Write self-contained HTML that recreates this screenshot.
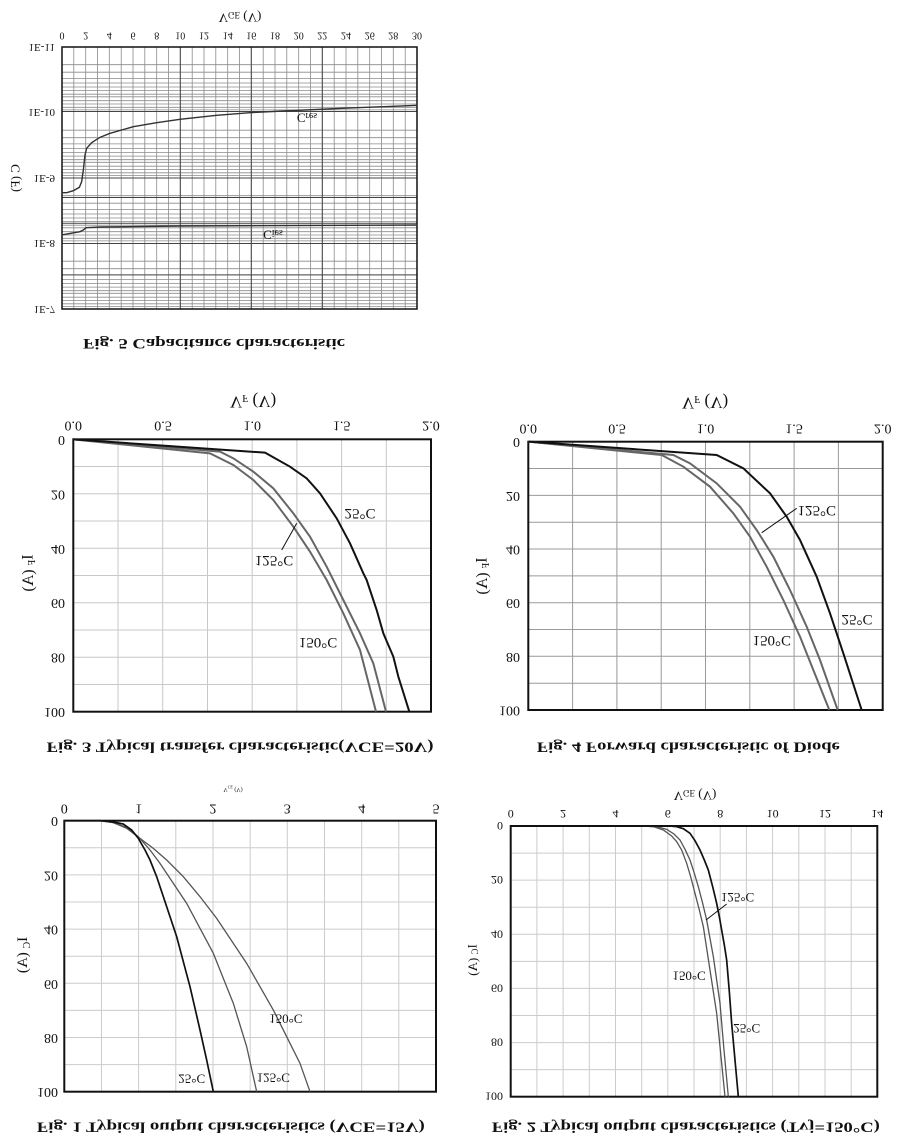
<!DOCTYPE html>
<html><head><meta charset="utf-8"><style>
html,body{margin:0;padding:0;background:#fff;}
svg{display:block;}
text{font-family:"Liberation Serif",serif;fill:#111;}
</style></head><body>
<svg width="904" height="1144" viewBox="0 0 904 1144" xmlns="http://www.w3.org/2000/svg">
<rect width="904" height="1144" fill="#fff"/>

<!-- ================= FIG 5 ================= -->
<g fill="none" stroke="#8a8a8a" stroke-width="0.8">
<path d="M73.8 47V309M85.7 47V309M97.5 47V309M109.3 47V309M121.2 47V309M133 47V309M144.8 47V309M156.7 47V309M168.5 47V309M180.3 47V309M192.2 47V309M204 47V309M215.8 47V309M227.7 47V309M239.5 47V309M251.3 47V309M263.2 47V309M275 47V309M286.8 47V309M298.7 47V309M310.5 47V309M322.3 47V309M334.2 47V309M346 47V309M357.8 47V309M369.7 47V309M381.5 47V309M393.3 47V309M405.2 47V309"/>
<path d="M62 64.7H417M62 72.2H417M62 78.4H417M62 83H417M62 87H417M62 90.6H417M62 94.2H417M62 96.8H417M62 100.7H417M62 104H417M62 107.3H417M62 109.9H417
M62 130.2H417M62 137.7H417M62 143.9H417M62 148.5H417M62 152.5H417M62 156.1H417M62 159.7H417M62 162.3H417M62 166.2H417M62 169.5H417M62 172.8H417M62 175.4H417
M62 195.7H417M62 203.2H417M62 209.4H417M62 214H417M62 218H417M62 221.6H417M62 225.2H417M62 227.8H417M62 231.7H417M62 235H417M62 238.3H417M62 240.9H417
M62 261.2H417M62 268.7H417M62 274.9H417M62 279.5H417M62 283.5H417M62 287.1H417M62 290.7H417M62 293.3H417M62 297.2H417M62 300.5H417M62 303.8H417M62 306.4H417"/>
</g>
<path d="M62 111.5H417M62 178H417M62 243.5H417M62 197.5H417M62 223.3H417M62 274.9H417M180.3 47V309M251.3 47V309M322.3 47V309" stroke="#444" stroke-width="1" fill="none"/>
<rect x="62" y="47" width="355" height="262" fill="none" stroke="#111" stroke-width="1.5"/>
<g transform="scale(0.33333)" fill="none" stroke="#333" stroke-width="1.4">
<polyline vector-effect="non-scaling-stroke" points="185,578 200,578 220,572 238,562 245,545 250,510 255,465 260,445 275,428 300,412 330,400 400,380 470,368 540,358 650,346 750,338 850,333 1000,326 1100,322 1252,316"/>
<polyline vector-effect="non-scaling-stroke" points="185,705 240,695 250,690 258,683 300,681 540,678 1252,675"/>
</g>
<g font-size="10" text-anchor="middle" dominant-baseline="central">
<text transform="translate(62,35) scale(1,-1)">0</text>
<text transform="translate(85.7,35) scale(1,-1)">2</text>
<text transform="translate(109.3,35) scale(1,-1)">4</text>
<text transform="translate(133,35) scale(1,-1)">6</text>
<text transform="translate(156.7,35) scale(1,-1)">8</text>
<text transform="translate(180.3,35) scale(1,-1)">10</text>
<text transform="translate(204,35) scale(1,-1)">12</text>
<text transform="translate(227.7,35) scale(1,-1)">14</text>
<text transform="translate(251.3,35) scale(1,-1)">16</text>
<text transform="translate(275,35) scale(1,-1)">18</text>
<text transform="translate(298.7,35) scale(1,-1)">20</text>
<text transform="translate(322.3,35) scale(1,-1)">22</text>
<text transform="translate(346,35) scale(1,-1)">24</text>
<text transform="translate(369.7,35) scale(1,-1)">26</text>
<text transform="translate(393.3,35) scale(1,-1)">28</text>
<text transform="translate(417,35) scale(1,-1)">30</text>
</g>
<g font-size="11" text-anchor="end" dominant-baseline="central">
<text transform="translate(55,47) scale(1,-1)">1E-11</text>
<text transform="translate(55,112) scale(1,-1)">1E-10</text>
<text transform="translate(55,178) scale(1,-1)">1E-9</text>
<text transform="translate(55,243) scale(1,-1)">1E-8</text>
<text transform="translate(55,309) scale(1,-1)">1E-7</text>
</g>
<text font-size="13" text-anchor="middle" dominant-baseline="central" transform="translate(240,18) scale(1,-1)">V<tspan dy="3" font-size="9">GE</tspan><tspan dy="-3"> (V)</tspan></text>
<text font-size="13" text-anchor="middle" dominant-baseline="central" transform="translate(15,178) scale(1,-1) rotate(-90)">C (F)</text>
<text font-size="13" text-anchor="middle" dominant-baseline="central" transform="translate(307,118) scale(1,-1)">C<tspan dy="2" font-size="10">res</tspan></text>
<text font-size="13" text-anchor="middle" dominant-baseline="central" transform="translate(273,235) scale(1,-1)">C<tspan dy="2" font-size="10">ies</tspan></text>
<text font-size="15" font-weight="bold" text-anchor="middle" dominant-baseline="central" textLength="262" lengthAdjust="spacingAndGlyphs" transform="translate(214,343) scale(1,-1)">Fig. 5 Capacitance characteristic</text>

<!-- ================= FIG 3 ================= -->
<path d="M118 439.3V711.7M162.7 439.3V711.7M207.5 439.3V711.7M252.2 439.3V711.7M296.9 439.3V711.7M341.6 439.3V711.7M386.3 439.3V711.7M73.3 466.5H431M73.3 493.8H431M73.3 521H431M73.3 548.3H431M73.3 575.5H431M73.3 602.7H431M73.3 630H431M73.3 657.2H431M73.3 684.5H431" stroke="#c8c8c8" stroke-width="1" fill="none"/>
<rect x="73.3" y="439.3" width="357.7" height="272.4" fill="none" stroke="#111" stroke-width="2"/>
<g transform="translate(0,380) scale(0.33333)" fill="none">
<polyline vector-effect="non-scaling-stroke" stroke="#666" stroke-width="2" points="220,178 630,220 700,255 760,300 820,360 880,440 930,515 980,600 1030,700 1080,810 1128,995"/>
<polyline vector-effect="non-scaling-stroke" stroke="#666" stroke-width="2" points="220,178 660,215 700,235 760,275 820,325 880,400 930,470 980,560 1030,660 1080,760 1120,850 1158,995"/>
<polyline vector-effect="non-scaling-stroke" stroke="#111" stroke-width="2" points="220,178 795,218 870,260 920,295 960,340 1010,415 1050,490 1090,580 1100,600 1130,690 1150,760 1180,830 1195,890 1228,995"/>
</g>
<line x1="281.7" y1="550" x2="296.7" y2="523.3" stroke="#111" stroke-width="1"/>
<g font-size="14" text-anchor="middle" dominant-baseline="central">
<text transform="translate(73.3,425) scale(1,-1)">0.0</text>
<text transform="translate(163,425) scale(1,-1)">0.5</text>
<text transform="translate(252.2,425) scale(1,-1)">1.0</text>
<text transform="translate(341.6,425) scale(1,-1)">1.5</text>
<text transform="translate(431,425) scale(1,-1)">2.0</text>
</g>
<g font-size="14" text-anchor="end" dominant-baseline="central">
<text transform="translate(65,439.3) scale(1,-1)">0</text>
<text transform="translate(65,493.8) scale(1,-1)">20</text>
<text transform="translate(65,548.3) scale(1,-1)">40</text>
<text transform="translate(65,602.7) scale(1,-1)">60</text>
<text transform="translate(65,657.2) scale(1,-1)">80</text>
<text transform="translate(65,711.7) scale(1,-1)">100</text>
</g>
<text font-size="17" text-anchor="middle" dominant-baseline="central" transform="translate(253,402) scale(1,-1)">V<tspan dy="4" font-size="11">F</tspan><tspan dy="-4"> (V)</tspan></text>
<text font-size="16" text-anchor="middle" dominant-baseline="central" transform="translate(28,573) scale(1,-1) rotate(-90)">I<tspan dy="4" font-size="10">F</tspan><tspan dy="-4"> (A)</tspan></text>
<g font-size="15" text-anchor="middle" dominant-baseline="central">
<text transform="translate(360,513) scale(1,-1)">25°C</text>
<text transform="translate(274,560) scale(1,-1)">125°C</text>
<text transform="translate(318,642) scale(1,-1)">150°C</text>
</g>
<text font-size="15" font-weight="bold" text-anchor="middle" dominant-baseline="central" textLength="387" lengthAdjust="spacingAndGlyphs" transform="translate(240,746.7) scale(1,-1)">Fig. 3 Typical transfer characteristic(VCE=20V)</text>

<!-- ================= FIG 4 ================= -->
<path d="M572.6 441.7V710M616.9 441.7V710M661.2 441.7V710M705.5 441.7V710M749.8 441.7V710M794.1 441.7V710M838.4 441.7V710M528.3 468.5H882.7M528.3 495.4H882.7M528.3 522.2H882.7M528.3 549H882.7M528.3 575.9H882.7M528.3 602.7H882.7M528.3 629.5H882.7M528.3 656.3H882.7M528.3 683.2H882.7" stroke="#9a9a9a" stroke-width="1" fill="none"/>
<rect x="528.3" y="441.7" width="354.4" height="268.3" fill="none" stroke="#111" stroke-width="2"/>
<g transform="translate(450,380) scale(0.33333)" fill="none">
<polyline vector-effect="non-scaling-stroke" stroke="#666" stroke-width="2" points="235,185 635,225 700,260 780,320 850,400 900,470 950,560 1000,660 1050,770 1090,870 1138,990"/>
<polyline vector-effect="non-scaling-stroke" stroke="#666" stroke-width="2" points="235,185 670,225 720,250 800,310 870,380 920,450 970,530 1020,630 1070,740 1110,840 1163,990"/>
<polyline vector-effect="non-scaling-stroke" stroke="#111" stroke-width="2" points="235,185 800,225 880,265 960,340 1010,410 1050,480 1100,590 1140,700 1180,820 1235,990"/>
</g>
<line x1="761.7" y1="532.7" x2="796.7" y2="508.3" stroke="#111" stroke-width="1"/>
<g font-size="14" text-anchor="middle" dominant-baseline="central">
<text transform="translate(528.3,428) scale(1,-1)">0.0</text>
<text transform="translate(617,428) scale(1,-1)">0.5</text>
<text transform="translate(705.5,428) scale(1,-1)">1.0</text>
<text transform="translate(794,428) scale(1,-1)">1.5</text>
<text transform="translate(882.7,428) scale(1,-1)">2.0</text>
</g>
<g font-size="14" text-anchor="end" dominant-baseline="central">
<text transform="translate(520,441.7) scale(1,-1)">0</text>
<text transform="translate(520,495.4) scale(1,-1)">20</text>
<text transform="translate(520,549) scale(1,-1)">40</text>
<text transform="translate(520,602.7) scale(1,-1)">60</text>
<text transform="translate(520,656.3) scale(1,-1)">80</text>
<text transform="translate(520,710) scale(1,-1)">100</text>
</g>
<text font-size="17" text-anchor="middle" dominant-baseline="central" transform="translate(705,403) scale(1,-1)">V<tspan dy="4" font-size="11">F</tspan><tspan dy="-4"> (V)</tspan></text>
<text font-size="16" text-anchor="middle" dominant-baseline="central" transform="translate(482,576) scale(1,-1) rotate(-90)">I<tspan dy="4" font-size="10">F</tspan><tspan dy="-4"> (A)</tspan></text>
<g font-size="15" text-anchor="middle" dominant-baseline="central">
<text transform="translate(816.7,510) scale(1,-1)">125°C</text>
<text transform="translate(857,619) scale(1,-1)">25°C</text>
<text transform="translate(771.7,640) scale(1,-1)">150°C</text>
</g>
<text font-size="15" font-weight="bold" text-anchor="middle" dominant-baseline="central" textLength="303" lengthAdjust="spacingAndGlyphs" transform="translate(688.3,746.7) scale(1,-1)">Fig. 4 Forward characteristic of Diode</text>

<!-- ================= FIG 1 ================= -->
<path d="M101.5 820.7V1091.7M138.6 820.7V1091.7M175.8 820.7V1091.7M213 820.7V1091.7M250.2 820.7V1091.7M287.3 820.7V1091.7M324.5 820.7V1091.7M361.7 820.7V1091.7M398.8 820.7V1091.7M64.3 847.8H436M64.3 874.9H436M64.3 902H436M64.3 929.1H436M64.3 956.2H436M64.3 983.3H436M64.3 1010.4H436M64.3 1037.5H436M64.3 1064.6H436" stroke="#cccccc" stroke-width="1" fill="none"/>
<rect x="64.3" y="820.7" width="371.7" height="271" fill="none" stroke="#111" stroke-width="2"/>
<g transform="translate(0,770) scale(0.33333)" fill="none">
<polyline vector-effect="non-scaling-stroke" stroke="#555" stroke-width="1.3" points="193,152 300,152 340,158 380,175 420,205 460,235 500,270 550,320 600,380 650,445 700,520 740,580 780,650 820,720 860,800 900,880 930,965"/>
<polyline vector-effect="non-scaling-stroke" stroke="#555" stroke-width="1.3" points="193,152 300,152 340,158 380,172 415,200 450,240 480,280 520,340 560,400 600,475 640,550 670,625 700,700 720,765 740,830 770,965"/>
<polyline vector-effect="non-scaling-stroke" stroke="#111" stroke-width="1.7" points="193,152 300,152 340,156 370,162 395,180 415,205 435,240 450,270 470,320 490,380 510,440 530,500 550,575 570,650 585,715 600,780 620,870 640,965"/>
</g>
<g font-size="14" text-anchor="middle" dominant-baseline="central">
<text transform="translate(64.3,808) scale(1,-1)">0</text>
<text transform="translate(138.6,808) scale(1,-1)">1</text>
<text transform="translate(213,808) scale(1,-1)">2</text>
<text transform="translate(287.3,808) scale(1,-1)">3</text>
<text transform="translate(361.7,808) scale(1,-1)">4</text>
<text transform="translate(436,808) scale(1,-1)">5</text>
</g>
<g font-size="14" text-anchor="end" dominant-baseline="central">
<text transform="translate(58,820.7) scale(1,-1)">0</text>
<text transform="translate(58,874.9) scale(1,-1)">20</text>
<text transform="translate(58,929.1) scale(1,-1)">40</text>
<text transform="translate(58,983.3) scale(1,-1)">60</text>
<text transform="translate(58,1037.5) scale(1,-1)">80</text>
<text transform="translate(58,1091.7) scale(1,-1)">100</text>
</g>
<text font-size="6" fill="#777" text-anchor="middle" dominant-baseline="central" transform="translate(233,789) scale(1,-1)">V<tspan dy="1.5" font-size="4">CE</tspan><tspan dy="-1.5"> (V)</tspan></text>
<text font-size="15" text-anchor="middle" dominant-baseline="central" transform="translate(23,955) scale(1,-1) rotate(-90)">I<tspan dy="4" font-size="10">C</tspan><tspan dy="-4"> (A)</tspan></text>
<g font-size="13" text-anchor="middle" dominant-baseline="central">
<text transform="translate(285.8,1019) scale(1,-1)">150°C</text>
<text transform="translate(191.7,1079) scale(1,-1)">25°C</text>
<text transform="translate(273.3,1078) scale(1,-1)">125°C</text>
</g>
<text font-size="15" font-weight="bold" text-anchor="middle" dominant-baseline="central" textLength="388" lengthAdjust="spacingAndGlyphs" transform="translate(230.8,1126.7) scale(1,-1)">Fig. 1 Typical output characteristics (VCE=15V)</text>

<!-- ================= FIG 2 ================= -->
<path d="M536.9 826V1096.7M563.1 826V1096.7M589.3 826V1096.7M615.5 826V1096.7M641.7 826V1096.7M667.8 826V1096.7M694 826V1096.7M720.2 826V1096.7M746.4 826V1096.7M772.6 826V1096.7M798.8 826V1096.7M825 826V1096.7M851.2 826V1096.7M510.7 853.1H877.3M510.7 880.1H877.3M510.7 907.2H877.3M510.7 934.3H877.3M510.7 961.4H877.3M510.7 988.4H877.3M510.7 1015.5H877.3M510.7 1042.6H877.3M510.7 1069.6H877.3" stroke="#cccccc" stroke-width="1" fill="none"/>
<rect x="510.7" y="826" width="366.6" height="270.7" fill="none" stroke="#111" stroke-width="2"/>
<g transform="translate(450,770) scale(0.33333)" fill="none">
<polyline vector-effect="non-scaling-stroke" stroke="#555" stroke-width="1.3" points="575,168 610,170 640,180 665,198 680,215 695,240 710,280 722,320 735,370 748,420 760,470 770,535 780,600 790,665 800,730 812,850 825,980"/>
<polyline vector-effect="non-scaling-stroke" stroke="#555" stroke-width="1.3" points="575,168 620,170 650,178 672,192 690,210 705,238 720,270 733,310 745,350 758,400 770,450 780,505 790,560 800,630 810,700 822,840 835,980"/>
<polyline vector-effect="non-scaling-stroke" stroke="#111" stroke-width="1.7" points="575,168 660,168 680,170 700,176 720,190 735,212 750,240 763,270 775,300 788,350 800,400 808,440 815,480 823,525 830,570 838,665 845,760 855,870 865,980"/>
</g>
<line x1="706" y1="920" x2="726.7" y2="904" stroke="#111" stroke-width="1"/>
<g font-size="12" text-anchor="middle" dominant-baseline="central">
<text transform="translate(510.7,814) scale(1,-1)">0</text>
<text transform="translate(563.1,814) scale(1,-1)">2</text>
<text transform="translate(615.5,814) scale(1,-1)">4</text>
<text transform="translate(667.8,814) scale(1,-1)">6</text>
<text transform="translate(720.2,814) scale(1,-1)">8</text>
<text transform="translate(772.6,814) scale(1,-1)">10</text>
<text transform="translate(825,814) scale(1,-1)">12</text>
<text transform="translate(877.3,814) scale(1,-1)">14</text>
</g>
<g font-size="12" text-anchor="end" dominant-baseline="central">
<text transform="translate(503,826) scale(1,-1)">0</text>
<text transform="translate(503,880.1) scale(1,-1)">20</text>
<text transform="translate(503,934.3) scale(1,-1)">40</text>
<text transform="translate(503,988.4) scale(1,-1)">60</text>
<text transform="translate(503,1042.6) scale(1,-1)">80</text>
<text transform="translate(503,1096.7) scale(1,-1)">100</text>
</g>
<text font-size="13" text-anchor="middle" dominant-baseline="central" transform="translate(695,796) scale(1,-1)">V<tspan dy="3" font-size="9">GE</tspan><tspan dy="-3"> (V)</tspan></text>
<text font-size="13" text-anchor="middle" dominant-baseline="central" transform="translate(472,960) scale(1,-1) rotate(-90)">I<tspan dy="3" font-size="9">C</tspan><tspan dy="-3"> (A)</tspan></text>
<g font-size="13" text-anchor="middle" dominant-baseline="central">
<text transform="translate(737.5,897.7) scale(1,-1)">125°C</text>
<text transform="translate(689,976) scale(1,-1)">150°C</text>
<text transform="translate(746.7,1028.3) scale(1,-1)">25°C</text>
</g>
<text font-size="15" font-weight="bold" text-anchor="middle" dominant-baseline="central" textLength="388" lengthAdjust="spacingAndGlyphs" transform="translate(685.8,1126.7) scale(1,-1)">Fig. 2 Typical output characteristics (Tvj=150°C)</text>
</svg>
</body></html>
